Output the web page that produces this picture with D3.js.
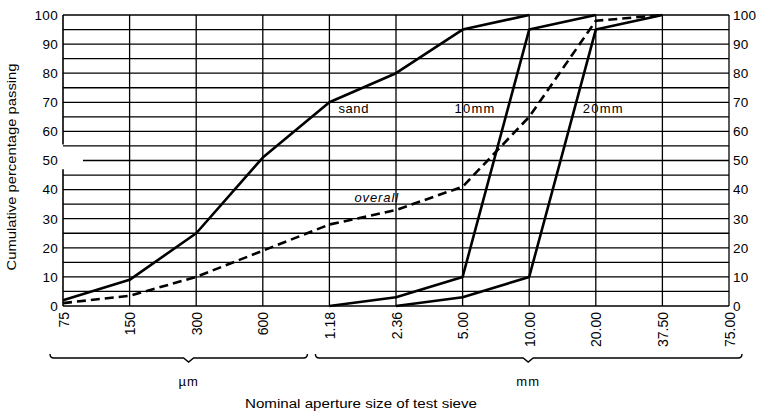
<!DOCTYPE html>
<html><head><meta charset="utf-8">
<script src="https://cdn.jsdelivr.net/npm/d3@7"></script>
<style>
body{margin:0;background:#fff}
text{font-family:"Liberation Sans",Arial,Helvetica,sans-serif;fill:#000}
</style>
</head><body>
<svg id="c" width="760" height="415"></svg>
<script>
// ---- data ----
const categories = ["75","150","300","600","1.18","2.36","5.00","10.00","20.00","37.50","75.00"];
const yTicks = [0,10,20,30,40,50,60,70,80,90,100];
const sand    = [2, 9, 25, 51, 70, 80, 95, 100, null, null, null];
const overall = [1, 3.5, 10, 19, 28, 33, 41, 65, 98, 100, null];
const mm10    = [null, null, null, null, 0, 3, 10, 95, 100, null, null];
const mm20    = [null, null, null, null, null, 0, 3, 10, 95, 100, null];
const unitGroups = ["µm", "mm"];

const svg = d3.select("#c");
const L = 63, R = 729, T = 15, B = 306;
const x = d3.scalePoint().domain(categories).range([L, R]);
const y = d3.scaleLinear().domain([0, 100]).range([B, T]);

// ---- grid ----
const g = svg.append("g").attr("stroke", "#000").attr("stroke-width", 1.3);
d3.range(0, 101, 5).forEach(v => {
  g.append("line")
    .attr("x1", v === 50 ? L + 20 : L).attr("x2", R)
    .attr("y1", y(v)).attr("y2", y(v));
});
categories.forEach(c => {
  if (c === categories[0]) return;
  g.append("line").attr("x1", x(c)).attr("x2", x(c)).attr("y1", T).attr("y2", B);
});
// left axis line with break around 50
g.append("line").attr("x1", L).attr("x2", L).attr("y1", T).attr("y2", y(55.5)).attr("stroke-width", 1.6);
g.append("line").attr("x1", L).attr("x2", L).attr("y1", y(47)).attr("y2", B).attr("stroke-width", 1.6);

// ---- axes ----
const left = svg.append("g").attr("transform", `translate(${L},0)`)
  .call(d3.axisLeft(y).tickValues(yTicks).tickSize(0).tickPadding(5));
left.select(".domain").remove();
left.selectAll("text").style("font-size", "13.5px").style("letter-spacing", "0.3px");

const right = svg.append("g").attr("transform", `translate(${R},0)`)
  .call(d3.axisRight(y).tickValues(yTicks).tickSize(0).tickPadding(4));
right.select(".domain").remove();
right.selectAll("text").style("font-size", "13.5px").style("letter-spacing", "0.3px");

const bottom = svg.append("g").attr("transform", `translate(0,${B})`)
  .call(d3.axisBottom(x).tickSize(0));
bottom.select(".domain").remove();
bottom.selectAll("text")
  .attr("transform", "rotate(-90)")
  .attr("x", -6).attr("y", 0).attr("dy", "0.36em")
  .style("text-anchor", "end").style("font-size", "14px");

// ---- curves ----
const line = d3.line()
  .defined(d => d.v != null)
  .x(d => x(d.c)).y(d => y(d.v));
const toPts = arr => categories.map((c, i) => ({c, v: arr[i]}));
const curves = [
  {data: sand, dash: null},
  {data: mm10, dash: null},
  {data: mm20, dash: null},
  {data: overall, dash: "9,5"}
];
svg.append("g").selectAll("path").data(curves).join("path")
  .attr("d", d => line(toPts(d.data)))
  .attr("fill", "none").attr("stroke", "#000")
  .attr("stroke-width", 2.6).attr("stroke-linejoin", "round")
  .attr("stroke-dasharray", d => d.dash);

// ---- curve labels ----
const labels = [
  {t: "sand", x: x("1.18") + 9, y: y(70) + 11, it: false, ls: 0.6},
  {t: "10mm", x: x("5.00") - 8, y: y(70) + 11, it: false, ls: 1.2},
  {t: "20mm", x: x("20.00") - 13, y: y(70) + 11, it: false, ls: 1.2},
  {t: "overall", x: x("1.18") + 25, y: y(36) + 1, it: true, ls: 0.9}
];
svg.append("g").selectAll("text").data(labels).join("text")
  .attr("x", d => d.x).attr("y", d => d.y)
  .style("font-size", "13px")
  .style("font-style", d => d.it ? "italic" : "normal")
  .style("letter-spacing", d => d.ls + "px")
  .text(d => d.t);

// ---- braces ----
function brace(x1, x2, tip, yb) {
  return `M${x1},${yb-4} Q${x1},${yb} ${x1+4},${yb} L${tip-5},${yb} L${tip},${yb+4} L${tip+5},${yb} L${x2-4},${yb} Q${x2},${yb} ${x2},${yb-4}`;
}
const yb = 358;
const braces = [
  {x1: x("75") - 13, x2: x("1.18") - 22, tip: x("150") + 59, label: unitGroups[0]},
  {x1: x("1.18") - 14, x2: x("75.00") + 13, tip: x("10.00") - 1, label: unitGroups[1]}
];
svg.append("g").selectAll("path").data(braces).join("path")
  .attr("d", d => brace(d.x1, d.x2, d.tip, yb))
  .attr("fill", "none").attr("stroke", "#000").attr("stroke-width", 1.4);
svg.append("g").selectAll("text").data(braces).join("text")
  .attr("x", d => d.tip).attr("y", 386)
  .attr("text-anchor", "middle").style("font-size", "13px").style("letter-spacing", "1px")
  .text(d => d.label);

// ---- titles ----
svg.append("text")
  .attr("transform", "translate(16,167) rotate(-90)")
  .attr("text-anchor", "middle").style("font-size", "12.5px")
  .attr("textLength", 207).attr("lengthAdjust", "spacingAndGlyphs")
  .text("Cumulative percentage passing");
svg.append("text")
  .attr("x", 361).attr("y", 408)
  .attr("text-anchor", "middle").style("font-size", "12.5px")
  .attr("textLength", 232).attr("lengthAdjust", "spacingAndGlyphs")
  .text("Nominal aperture size of test sieve");
</script>
</body></html>
